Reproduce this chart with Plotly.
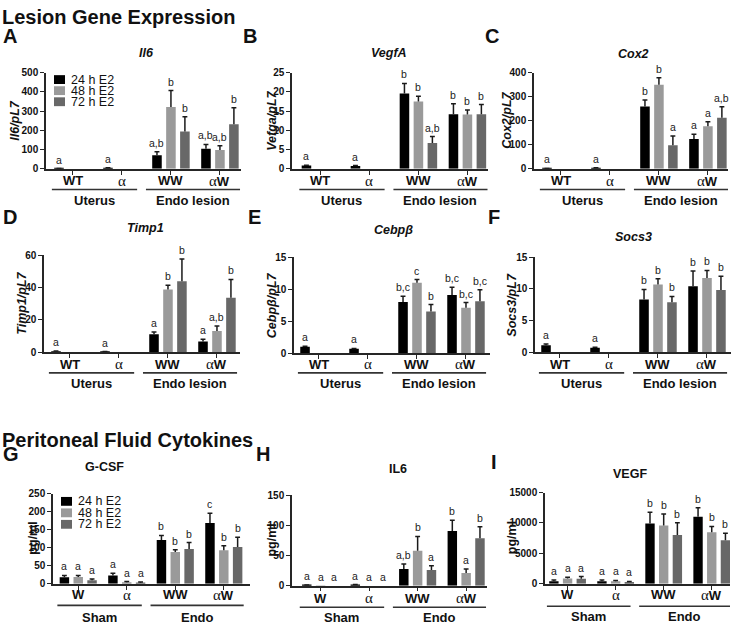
import plotly.graph_objects as go

FONT = "Arial, 'Liberation Sans', Helvetica, sans-serif"
SERIF = "Liberation Serif, DejaVu Serif, serif"
W_PX, H_PX = 739, 629

series_names = ["24 h E2", "48 h E2", "72 h E2"]
series_colors = ["#000000", "#9a9a9a", "#686868"]

tissue_groups = ["WT", "α", "WW", "αW"]
tissue_cats = ["Uterus", "Endo lesion"]
fluid_groups = ["W", "α", "WW", "αW"]
fluid_cats = ["Sham", "Endo"]

# ---- A: Il6 ----
il6_24 = [1, 4, 71, 105]
il6_24_err = [0.5, 1, 18, 22]
il6_48 = [None, None, 321, 98]
il6_48_err = [None, None, 86, 22]
il6_72 = [None, None, 194, 232]
il6_72_err = [None, None, 77, 86]
il6_sig_24 = ["a", "a", "a,b", "a,b"]
il6_sig_48 = [None, None, "b", "a,b"]
il6_sig_72 = [None, None, "b", "b"]

# ---- B: VegfA ----
vegfa_24 = [0.85, 0.75, 19.6, 14.2]
vegfa_24_err = [0.1, 0.1, 2.6, 2.7]
vegfa_48 = [None, None, 17.5, 14.1]
vegfa_48_err = [None, None, 1.4, 1.2]
vegfa_72 = [None, None, 6.7, 14.2]
vegfa_72_err = [None, None, 1.7, 2.5]
vegfa_sig_24 = ["a", "a", "b", "b"]
vegfa_sig_48 = [None, None, "b", "b"]
vegfa_sig_72 = [None, None, "a,b", "b"]

# ---- C: Cox2 ----
cox2_24 = [1, 4, 259, 124]
cox2_24_err = [0.5, 1, 27, 20]
cox2_48 = [None, None, 350, 177]
cox2_48_err = [None, None, 29, 19]
cox2_72 = [None, None, 98, 213]
cox2_72_err = [None, None, 39, 45]
cox2_sig_24 = ["a", "a", "b", "a"]
cox2_sig_48 = [None, None, "b", "a"]
cox2_sig_72 = [None, None, "a", "a,b"]

# ---- D: Timp1 ----
timp1_24 = [0.6, 0.3, 11.1, 6.7]
timp1_24_err = [0.2, 0.1, 1.4, 1.4]
timp1_48 = [None, None, 38.8, 13.1]
timp1_48_err = [None, None, 2.6, 3.1]
timp1_72 = [None, None, 43.8, 33.7]
timp1_72_err = [None, None, 13.8, 11.3]
timp1_sig_24 = ["a", "a", "a", "a"]
timp1_sig_48 = [None, None, "b", "a,b"]
timp1_sig_72 = [None, None, "b", "b"]

# ---- E: Cebpb ----
cebpb_24 = [1.0, 0.7, 8.0, 9.1]
cebpb_24_err = [0.1, 0.05, 0.9, 1.2]
cebpb_48 = [None, None, 11.0, 7.1]
cebpb_48_err = [None, None, 0.5, 0.8]
cebpb_72 = [None, None, 6.5, 8.1]
cebpb_72_err = [None, None, 1.1, 1.8]
cebpb_sig_24 = ["a", "a", "b,c", "b,c"]
cebpb_sig_48 = [None, None, "c", "b,c"]
cebpb_sig_72 = [None, None, "b", "b,c"]

# ---- F: Socs3 ----
socs3_24 = [1.1, 0.7, 8.3, 10.4]
socs3_24_err = [0.2, 0.1, 1.6, 2.4]
socs3_48 = [None, None, 10.7, 11.7]
socs3_48_err = [None, None, 0.9, 1.2]
socs3_72 = [None, None, 7.9, 9.8]
socs3_72_err = [None, None, 0.9, 2.2]
socs3_sig_24 = ["a", "a", "b", "b"]
socs3_sig_48 = [None, None, "b", "b"]
socs3_sig_72 = [None, None, "b", "b"]

# ---- G: G-CSF ----
gcsf_24 = [18, 23, 121, 168]
gcsf_24_err = [5, 6, 13, 27]
gcsf_48 = [19, 4, 88, 93]
gcsf_48_err = [4, 2, 6, 12]
gcsf_72 = [10, 3, 96, 102]
gcsf_72_err = [3, 2, 18, 27]
gcsf_sig_24 = ["a", "a", "b", "c"]
gcsf_sig_48 = ["a", "a", "b", "b"]
gcsf_sig_72 = ["a", "a", "b", "b"]

# ---- H: IL6 ----
pil6_24 = [1, 1.5, 28, 91]
pil6_24_err = [0.3, 0.5, 8, 18]
pil6_48 = [0.3, 0, 58, 21]
pil6_48_err = [0, 0, 24, 7]
pil6_72 = [0, 0, 26, 79]
pil6_72_err = [0, 0, 7, 19]
pil6_sig_24 = ["a", "a", "a,b", "b"]
pil6_sig_48 = ["a", "a", "b", "a"]
pil6_sig_72 = ["a", "a", "a", "b"]

# ---- I: VEGF ----
vegf_24 = [430, 430, 9900, 11000]
vegf_24_err = [170, 170, 1860, 1500]
vegf_48 = [850, 430, 9590, 8460]
vegf_48_err = [230, 110, 1900, 970]
vegf_72 = [810, 270, 8020, 7150]
vegf_72_err = [380, 110, 2010, 1140]
vegf_sig_24 = ["a", "a", "b", "b"]
vegf_sig_48 = ["a", "a", "b", "b"]
vegf_sig_72 = ["a", "a", "b", "b"]


def px_x(px):
    return px / W_PX


def px_y(py):
    return 1 - py / H_PX


panels = [
    dict(tag="A", title="<b><i>Il6</i></b>", ytitle="<b><i>Il6/pL7</i></b>",
         vals=(il6_24, il6_48, il6_72), errs=(il6_24_err, il6_48_err, il6_72_err),
         sigs=(il6_sig_24, il6_sig_48, il6_sig_72), ymax=500, dtick=100,
         groups=tissue_groups, cats=tissue_cats, box=(46, 241, 68, 166), xr=(-0.55, 3.43),
         title_xy=(146, 48), ytitle_x=15, tag_xy=(1, 31), legend=(54, 75, 11.3),
         lab_y=178, br_y=187, cat_y=198),
    dict(tag="B", title="<b><i>VegfA</i></b>", ytitle="<b><i>Vefga/pL7</i></b>",
         vals=(vegfa_24, vegfa_48, vegfa_72), errs=(vegfa_24_err, vegfa_48_err, vegfa_72_err),
         sigs=(vegfa_sig_24, vegfa_sig_48, vegfa_sig_72), ymax=25, dtick=5,
         groups=tissue_groups, cats=tissue_cats, box=(292, 488, 68, 166), xr=(-0.58, 3.42),
         title_xy=(389, 48), ytitle_x=272, tag_xy=(241, 31), legend=None,
         lab_y=178, br_y=187, cat_y=198),
    dict(tag="C", title="<b><i>Cox2</i></b>", ytitle="<b><i>Cox2/pL7</i></b>",
         vals=(cox2_24, cox2_48, cox2_72), errs=(cox2_24_err, cox2_48_err, cox2_72_err),
         sigs=(cox2_sig_24, cox2_sig_48, cox2_sig_72), ymax=400, dtick=100,
         groups=tissue_groups, cats=tissue_cats, box=(534, 728, 68, 166), xr=(-0.55, 3.41),
         title_xy=(633, 49), ytitle_x=507, tag_xy=(483, 31), legend=None,
         lab_y=178, br_y=187, cat_y=198),
    dict(tag="D", title="<b><i>Timp1</i></b>", ytitle="<b><i>Timp1/pL7</i></b>",
         vals=(timp1_24, timp1_48, timp1_72), errs=(timp1_24_err, timp1_48_err, timp1_72_err),
         sigs=(timp1_sig_24, timp1_sig_48, timp1_sig_72), ymax=60, dtick=20,
         groups=tissue_groups, cats=tissue_cats, box=(44, 240, 254, 353), xr=(-0.53, 3.47),
         title_xy=(145, 226), ytitle_x=22, tag_xy=(1, 215), legend=None,
         lab_y=365, br_y=374, cat_y=385),
    dict(tag="E", title="<b><i>Cebpβ</i></b>", ytitle="<b><i>Cebpβ/pL7</i></b>",
         vals=(cebpb_24, cebpb_48, cebpb_72), errs=(cebpb_24_err, cebpb_48_err, cebpb_72_err),
         sigs=(cebpb_sig_24, cebpb_sig_48, cebpb_sig_72), ymax=15, dtick=5,
         groups=tissue_groups, cats=tissue_cats, box=(294, 490, 256, 354), xr=(-0.51, 3.49),
         title_xy=(393, 228), ytitle_x=272, tag_xy=(246, 215), legend=None,
         lab_y=365, br_y=374, cat_y=385),
    dict(tag="F", title="<b><i>Socs3</i></b>", ytitle="<b><i>Socs3/pL7</i></b>",
         vals=(socs3_24, socs3_48, socs3_72), errs=(socs3_24_err, socs3_48_err, socs3_72_err),
         sigs=(socs3_sig_24, socs3_sig_48, socs3_sig_72), ymax=15, dtick=5,
         groups=tissue_groups, cats=tissue_cats, box=(535, 731, 256, 353), xr=(-0.51, 3.49),
         title_xy=(633, 236), ytitle_x=512, tag_xy=(486, 215), legend=None,
         lab_y=365, br_y=374, cat_y=385),
    dict(tag="G", title="<b>G-CSF</b>", ytitle="<b>pg/ml</b>",
         vals=(gcsf_24, gcsf_48, gcsf_72), errs=(gcsf_24_err, gcsf_48_err, gcsf_72_err),
         sigs=(gcsf_sig_24, gcsf_sig_48, gcsf_sig_72), ymax=250, dtick=50,
         groups=fluid_groups, cats=fluid_cats, box=(53, 250, 497, 589), xr=(-0.52, 3.54),
         title_xy=(104, 470), ytitle_x=33, tag_xy=(1, 457), legend=(61, 505, 11.7),
         lab_y=600, br_y=611, cat_y=623),
    dict(tag="H", title="<b>IL6</b>", ytitle="<b>pg/ml</b>",
         vals=(pil6_24, pil6_48, pil6_72), errs=(pil6_24_err, pil6_48_err, pil6_72_err),
         sigs=(pil6_sig_24, pil6_sig_48, pil6_sig_72), ymax=150, dtick=50,
         groups=fluid_groups, cats=fluid_cats, box=(292, 487, 499, 591), xr=(-0.59, 3.43),
         title_xy=(398, 472), ytitle_x=272, tag_xy=(254, 457), legend=None,
         lab_y=604, br_y=613, cat_y=623),
    dict(tag="I", title="<b>VEGF</b>", ytitle="<b>pg/ml</b>",
         vals=(vegf_24, vegf_48, vegf_72), errs=(vegf_24_err, vegf_48_err, vegf_72_err),
         sigs=(vegf_sig_24, vegf_sig_48, vegf_sig_72), ymax=15000, dtick=5000,
         groups=fluid_groups, cats=fluid_cats, box=(545, 730, 496, 589), xr=(-0.47, 3.38),
         title_xy=(630, 477), ytitle_x=512, tag_xy=(489, 465), legend=None,
         lab_y=600, br_y=612, cat_y=622),
]

OFFSETS = [-0.285, 0.0, 0.285]
BAR_W = 0.195
CAP = 0.05
AXIS_COL = "#262626"


def fmt_group(name):
    out = ""
    buf = ""
    for ch in name:
        if ch == "α":
            if buf:
                out += "<b>" + buf + "</b>"
                buf = ""
            out += ("<span style=\"font-family:" + SERIF +
                    ";font-weight:normal;font-size:15px\">α</span>")
        else:
            buf += ch
    if buf:
        out += "<b>" + buf + "</b>"
    return out


fig = go.Figure()
layout = dict(
    width=W_PX, height=H_PX,
    margin=dict(l=0, r=0, t=0, b=0),
    paper_bgcolor="white", plot_bgcolor="white",
    barmode="overlay", showlegend=False,
    font=dict(family=FONT, color="#111"),
)
annotations = []
shapes = []

for k, p in enumerate(panels, start=1):
    xa = "x" if k == 1 else f"x{k}"
    ya = "y" if k == 1 else f"y{k}"
    xkey = "xaxis" if k == 1 else f"xaxis{k}"
    ykey = "yaxis" if k == 1 else f"yaxis{k}"
    x0, x1, ytop, ybot = p["box"]

    for s in range(3):
        vals = p["vals"][s]
        errs = p["errs"][s]
        xs = [g + OFFSETS[s] for g in range(len(vals))]
        fig.add_trace(go.Bar(
            x=xs, y=vals, width=BAR_W, marker=dict(color=series_colors[s], line=dict(width=0)),
            xaxis=xa, yaxis=ya, name=series_names[s], hoverinfo="skip",
        ))
        ex, ey = [], []
        for g, (v, e) in enumerate(zip(vals, errs)):
            if v is None or e is None or e == 0:
                continue
            xc = g + OFFSETS[s]
            ex += [xc, xc, None, xc - CAP, xc + CAP, None]
            ey += [v, v + e, None, v + e, v + e, None]
        if ex:
            fig.add_trace(go.Scatter(
                x=ex, y=ey, mode="lines", line=dict(color="#1a1a1a", width=1.5),
                xaxis=xa, yaxis=ya, hoverinfo="skip",
            ))
        for g, (v, e, lab) in enumerate(zip(vals, errs, p["sigs"][s])):
            if lab is None:
                continue
            top = (v or 0) + (e or 0)
            annotations.append(dict(
                x=g + OFFSETS[s], y=top, xref=xa, yref=ya, text=lab, showarrow=False,
                yanchor="bottom", xanchor="center", yshift=1,
                font=dict(size=10.5, color="#222", family=FONT),
            ))

    layout[xkey] = dict(
        domain=[px_x(x0), px_x(x1)], range=list(p["xr"]), anchor=ya,
        showline=True, linecolor=AXIS_COL, linewidth=1.5, showgrid=False, zeroline=False,
        ticks="outside", ticklen=4, tickwidth=1.3, tickcolor=AXIS_COL,
        tickvals=list(range(len(p["groups"]))), showticklabels=False,
        fixedrange=True,
    )
    layout[ykey] = dict(
        domain=[px_y(ybot), px_y(ytop)], range=[0, p["ymax"]], dtick=p["dtick"], anchor=xa,
        showline=True, linecolor=AXIS_COL, linewidth=1.5, showgrid=False, zeroline=False,
        ticks="outside", ticklen=4, tickwidth=1.3, tickcolor=AXIS_COL, tickformat="d",
        tickfont=dict(size=10, color="#111", family=FONT, weight="bold"),
        fixedrange=True,
    )

    for g, name in enumerate(p["groups"]):
        annotations.append(dict(x=g, y=px_y(p["lab_y"]), xref=xa, yref="paper",
                                text=fmt_group(name), showarrow=False,
                                xanchor="center", yanchor="middle",
                                font=dict(size=13, color="#111", family=FONT)))

    tx, ty = p["title_xy"]
    annotations.append(dict(x=px_x(tx), y=px_y(ty), xref="paper", yref="paper",
                            text=p["title"], showarrow=False, xanchor="center", yanchor="middle",
                            font=dict(size=12.5, color="#111", family=FONT)))
    annotations.append(dict(x=px_x(p["ytitle_x"]), y=px_y((ytop + ybot) / 2), xref="paper", yref="paper",
                            text=p["ytitle"], showarrow=False, textangle=-90,
                            xanchor="center", yanchor="middle",
                            font=dict(size=12.5, color="#111", family=FONT)))
    lx, ly = p["tag_xy"]
    annotations.append(dict(x=px_x(lx), y=px_y(ly), xref="paper", yref="paper",
                            text="<b>" + p["tag"] + "</b>", showarrow=False,
                            xanchor="left", yanchor="middle",
                            font=dict(size=20, color="#111", family=FONT)))
    for (b0, b1), cat in zip([(-0.43, 1.31), (1.49, 3.41)], p["cats"]):
        bx1 = min(b1, p["xr"][1])
        shapes.append(dict(type="line", xref=xa, yref="paper", x0=b0, x1=bx1,
                           y0=px_y(p["br_y"]), y1=px_y(p["br_y"]),
                           line=dict(color="#333", width=1.6)))
        annotations.append(dict(x=(b0 + bx1) / 2, y=px_y(p["cat_y"]), xref=xa, yref="paper",
                                text="<b>" + cat + "</b>", showarrow=False,
                                xanchor="center", yanchor="middle",
                                font=dict(size=13, color="#111", family=FONT)))
    if p["legend"]:
        gx, gy, step = p["legend"]
        for s in range(3):
            cy = gy + s * step
            shapes.append(dict(type="rect", xref="paper", yref="paper",
                               x0=px_x(gx), x1=px_x(gx + 11), y0=px_y(cy + 4.5), y1=px_y(cy - 4.5),
                               fillcolor=series_colors[s], line=dict(width=0)))
            annotations.append(dict(x=px_x(gx + 15), y=px_y(cy), xref="paper", yref="paper",
                                    text=series_names[s], showarrow=False,
                                    xanchor="left", yanchor="middle",
                                    font=dict(size=12.5, color="#111", family=FONT)))

annotations.append(dict(x=0, y=px_y(11), xref="paper", yref="paper",
                        text="<b>Lesion Gene Expression</b>", showarrow=False,
                        xanchor="left", yanchor="middle",
                        font=dict(size=20, color="#111", family=FONT)))
annotations.append(dict(x=0, y=px_y(442), xref="paper", yref="paper",
                        text="<b>Peritoneal Fluid Cytokines</b>", showarrow=False,
                        xanchor="left", yanchor="middle",
                        font=dict(size=20, color="#111", family=FONT)))

layout["annotations"] = annotations
layout["shapes"] = shapes
fig.update_layout(**layout)
fig.write_html("out.html", config={"displayModeBar": False},
               post_script="document.body.style.margin='0px';")
